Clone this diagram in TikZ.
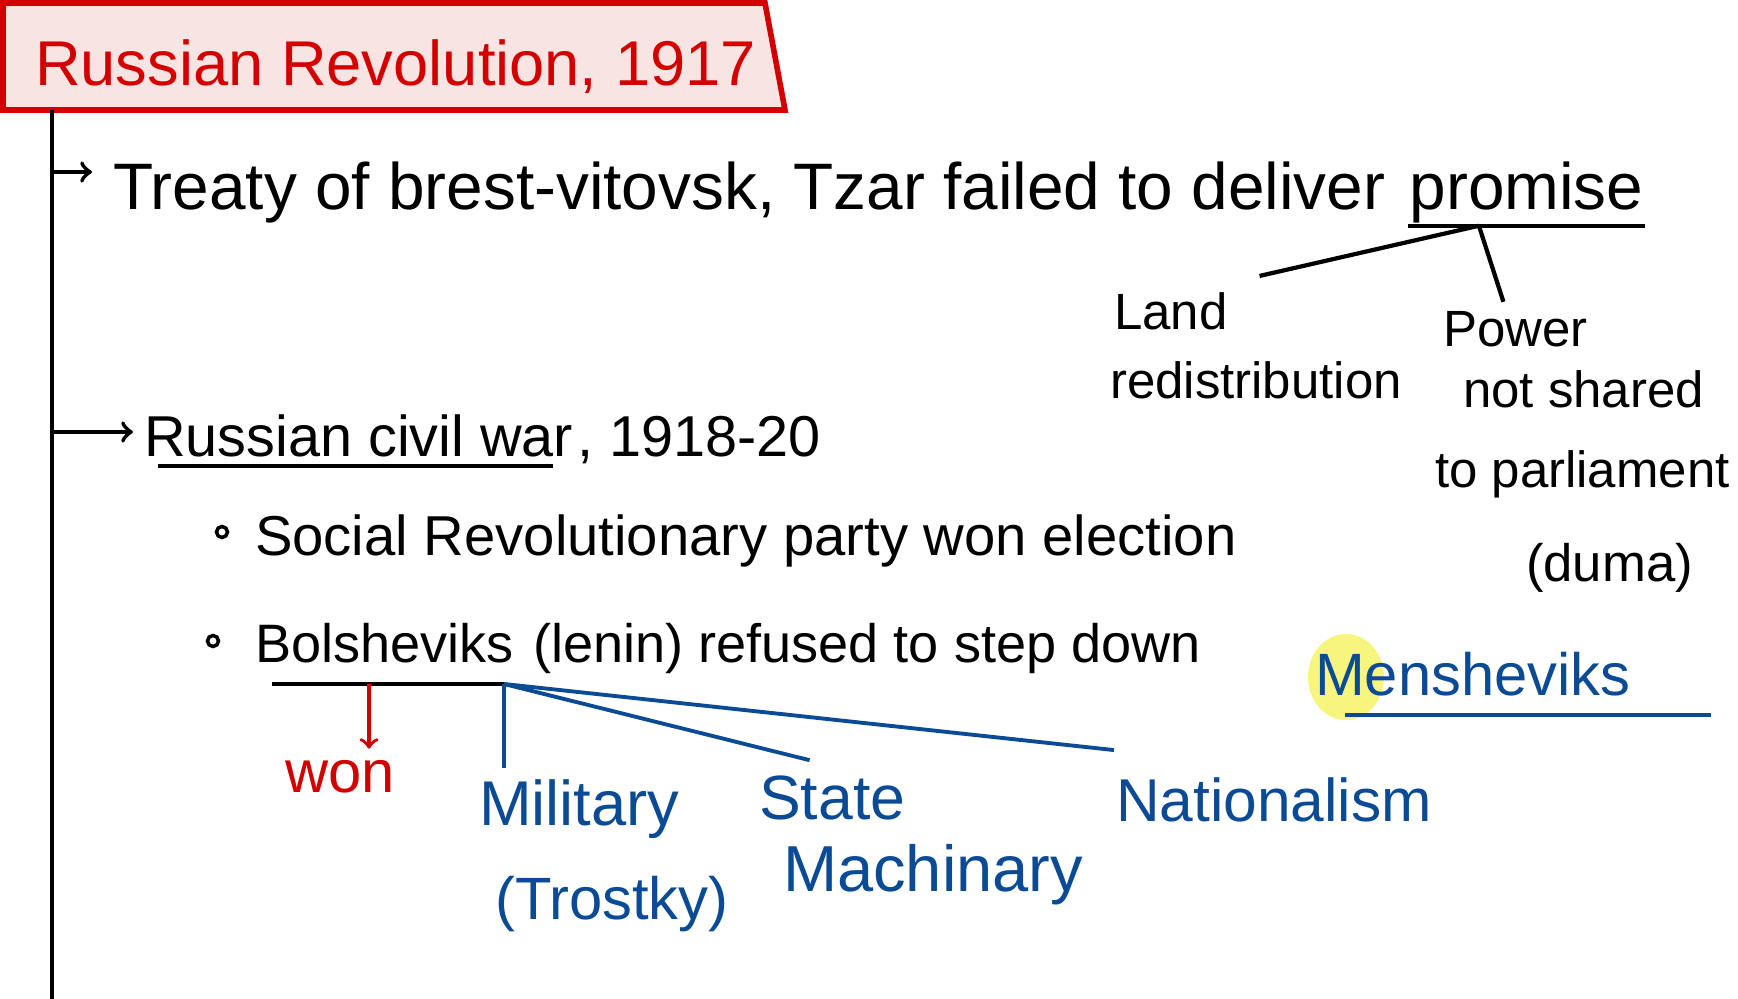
\documentclass[tikz,border=0pt]{standalone}
\usepackage{fontspec}
\setmainfont{Liberation Sans}
\usetikzlibrary{positioning,calc}

\definecolor{penred}{HTML}{D40000}
\definecolor{penblue}{HTML}{0B4A94}
\definecolor{boxpink}{HTML}{F9E4E4}
\definecolor{marker}{HTML}{F7F57E}

\begin{document}
\begin{tikzpicture}[x=0.1mm,y=-0.1mm,line width=1.2pt,
  hand/.style={font=\fontsize{#1}{#1}\selectfont,inner sep=0pt,anchor=base west},
  hand/.default=16,
  redink/.style={text=penred},
  blueink/.style={text=penblue},
  tie/.style={draw=penblue,line width=1.1pt},
  bullet/.style={shape=circle,draw,inner sep=0pt,minimum size=1.1mm,line width=1pt}]
\useasboundingbox (0,0) rectangle (1738,999);

% heading
\filldraw [fill=boxpink,draw=penred,line width=1.6pt] (3,3) -- (765,3) -- (785,110) -- (3,110) -- cycle;
\path (33,86) node (title) [hand=18,redink] {Russian Revolution, 1917};

% spine with the two entries
\coordinate (spinetop) at (52,110);
\coordinate (spinebot) at (52,999);
\draw (spinetop) to (spinebot);
\coordinate (entry1) at (52,172);
\coordinate (entry1tip) at (92,172);
\coordinate (entry2) at (52,432);
\coordinate (entry2tip) at (133,432);
\draw [->] (entry1) to (entry1tip);
\draw [->] (entry2) to (entry2tip);

% treaty line
\path (111,210) node (treaty) [hand=18.7] {Treaty of brest-vitovsk, Tzar failed to deliver};
\node (promise) [hand=18.7,base right=2mm of treaty] {promise};
\draw (promise.south west) to (promise.south east);
\coordinate (promsplit) at ($(promise.south west)!0.3!(promise.south east)$);

\path (1112,330) node (land) [hand=14.5] {Land};
\path (1108,399) node (redist) [hand=14.5] {redistribution};
\path (1441,347) node (power) [hand=14.5] {Power};
\path (1461,408) node (notshared) [hand=14.5] {not shared};
\path (1433,488) node (parl) [hand=14.5] {to parliament};
\path (1524,582) node (duma) [hand=15] {(duma)};
\draw (promsplit) to ([xshift=3mm,yshift=1.5mm]land.north east);
\draw (promsplit) to ([yshift=0.8mm]$(power.north west)!0.42!(power.north east)$);

% civil war
\path (142,457) node (civilwar) [hand=16.4] {Russian civil war};
\node (years) [hand=16.4,base right=0pt of civilwar] {, 1918-20};
\draw ([xshift=1.6mm,yshift=-0.6mm]civilwar.south west) to ([xshift=-2.2mm,yshift=-0.6mm]civilwar.south east);

\path (222,532) node (dot1) [bullet] {};
\path (253,556) node (social) [hand=16] {Social Revolutionary party won election};
\path (213,641) node (dot2) [bullet] {};
\path (253,663) node (bolsh) [hand=15.4] {Bolsheviks};
\node (refused) [hand=15.4,base right=1.5mm of bolsh] {(lenin) refused to step down};

\coordinate (ulstart) at (272,684);
\coordinate (split) at (504,684);
\draw (ulstart) to (split);

% what they won with
\coordinate (wonfoot) at (369,684);
\path (283,793) node (won) [hand=17,redink] {won};
\draw [->,draw=penred,line width=1pt,shorten >=1mm] (wonfoot) to (won.north -| wonfoot);

\path (477,826) node (milit) [hand=18,blueink] {Military};
\path (493,920) node (trotsky) [hand=17,blueink] {(Trostky)};
\path (757,820) node (state) [hand=17.8,blueink] {State};
\path (781,892) node (mach) [hand=18.5,blueink] {Machinary};
\path (1114,822) node (nation) [hand=17.2,blueink] {Nationalism};
\draw [tie] (split) to ([yshift=1mm]milit.north -| split);
\draw [tie] (split) to ([yshift=1.4mm]$(state.north west)!0.35!(state.north east)$);
\draw [tie] (split) to ([yshift=2.6mm]nation.north west);

% the other party
\fill [marker] (1346,677) ellipse [x radius=38, y radius=43];
\path (1313,696) node (mensh) [hand=17,blueink] {Mensheviks};
\draw [tie] ([xshift=3.2mm,yshift=-1.6mm]mensh.south west) to ([xshift=7.8mm,yshift=-1.6mm]mensh.south east);
\end{tikzpicture}
\end{document}
